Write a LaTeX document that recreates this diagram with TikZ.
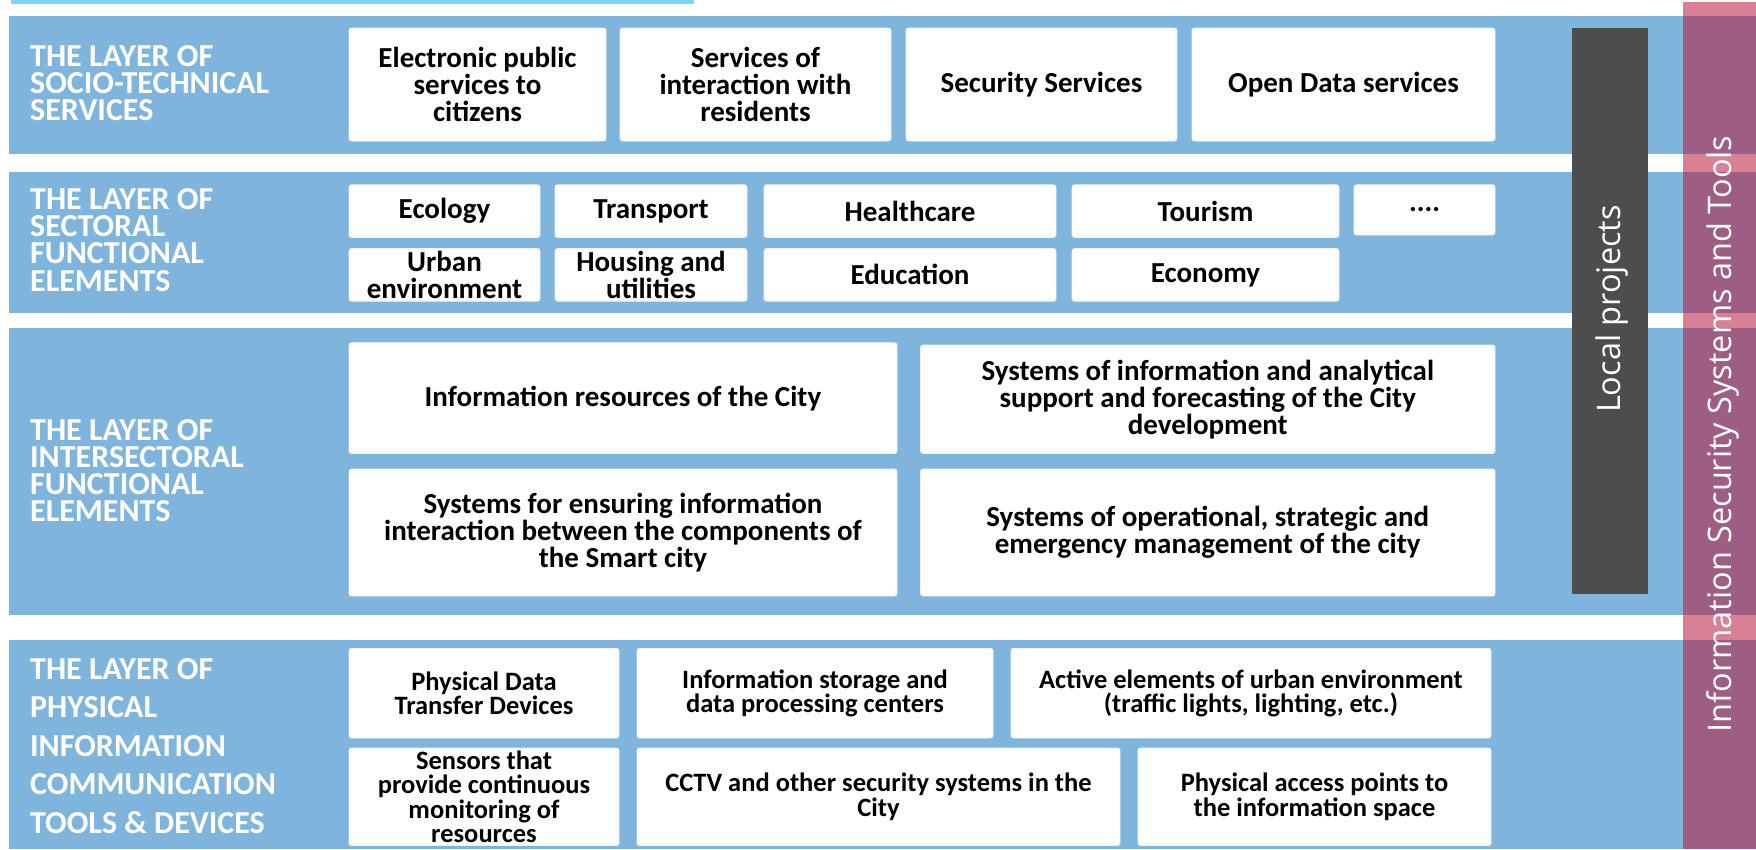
\documentclass[tikz,border=0pt]{standalone}
\usepackage{fontspec}
\setmainfont{Carlito}
\newfontfamily\vfont{Open Sans}
\definecolor{bandblue}{RGB}{127,181,221}
\definecolor{cyanline}{RGB}{125,212,245}
\definecolor{darkbox}{RGB}{77,77,77}
\definecolor{pinkcol}{RGB}{184,24,60}
\tikzset{
  bandrect/.style={fill=bandblue, draw=none},
  box/.style={fill=white, draw=white!85!bandblue, line width=0.8pt, rounded corners=2.5pt,
    align=center, font=\fontsize{29}{27}\selectfont\bfseries, inner sep=0pt},
  smallbox/.style={box, font=\fontsize{26.5}{24.5}\selectfont\bfseries},
  lbl/.style={anchor=west, align=left, text=white, inner sep=0pt,
    font=\fontsize{32}{27.2}\selectfont\bfseries},
  vtext/.style={rotate=90, text=white, inner sep=0pt, font=\vfont\fontsize{32.5}{38}\selectfont},
}
\newcommand\bx[7][box]{\node[#1, minimum width={#5-#3}, minimum height={#6-#4}] (#2) at ({(#3+#5)/2},{(#4+#6)/2}) {#7};}
\begin{document}
\begin{tikzpicture}[x=1pt,y=-1pt]
\useasboundingbox (0,0) rectangle (1756,849);
% top line
\fill[cyanline] (11,0) rectangle (694,3.5);
% bands
\node[bandrect, minimum width=1747, minimum height=137.7, inner sep=0pt, anchor=north west] (b1) at (9,15.7) {};
\node[bandrect, minimum width=1747, minimum height=141.1, inner sep=0pt, anchor=north west] (b2) at (9,171.3) {};
\node[bandrect, minimum width=1747, minimum height=286.7, inner sep=0pt, anchor=north west] (b3) at (9,328.1) {};
\node[bandrect, minimum width=1747, minimum height=209.5, inner sep=0pt, anchor=north west] (b4) at (9,639.5) {};
% labels
\node[lbl] (l1) at (30,83) {THE LAYER OF\\SOCIO-TECHNICAL\\SERVICES};
\node[lbl] (l2) at (30,240) {THE LAYER OF\\SECTORAL\\FUNCTIONAL\\ELEMENTS};
\node[lbl] (l3) at (30,470.5) {THE LAYER OF\\INTERSECTORAL\\FUNCTIONAL\\ELEMENTS};
\node[lbl, font=\fontsize{32}{38.5}\selectfont\bfseries] (l4) at (30,746) {THE LAYER OF\\PHYSICAL\\INFORMATION\\COMMUNICATION\\TOOLS \& DEVICES};
% layer 1
\bx{s1}{349}{28}{606}{141}{Electronic public\\services to\\citizens}
\bx{s2}{620}{28}{891}{141}{Services of\\interaction with\\residents}
\bx{s3}{906}{28}{1177}{141}{Security Services}
\bx{s4}{1192}{28}{1495}{141}{Open Data services}
% layer 2
\bx{f1}{349}{184.8}{540}{237.4}{Ecology}
\bx{f2}{555}{184.8}{747}{237.4}{Transport}
\bx{f3}{764}{184.8}{1056}{237.4}{Healthcare}
\bx{f4}{1072}{184.8}{1339}{237.4}{Tourism}
\bx{f5}{1354}{184.8}{1495}{235}{....}
\bx{f6}{349}{248.6}{540}{301.2}{Urban\\environment}
\bx{f7}{555}{248.6}{747}{301.2}{Housing and\\utilities}
\bx{f8}{764}{248.6}{1056}{301.2}{Education}
\bx{f9}{1072}{248.6}{1339}{301.2}{Economy}
% layer 3
\bx{i1}{349}{342.7}{897}{453.5}{Information resources of the City}
\bx{i2}{920.6}{345}{1495}{453.5}{Systems of information and analytical\\support and forecasting of the City\\development}
\bx{i3}{349}{469}{897}{596}{Systems for ensuring information\\interaction between the components of\\the Smart city}
\bx{i4}{920.6}{469}{1495}{596}{Systems of operational, strategic and\\emergency management of the city}
% layer 4
\bx[smallbox]{p1}{349}{648.4}{619}{738}{Physical Data\\Transfer Devices}
\bx[smallbox]{p2}{637}{648.4}{993}{738}{Information storage and\\data processing centers}
\bx[smallbox]{p3}{1011}{648.4}{1491}{738}{Active elements of urban environment\\(traffic lights, lighting, etc.)}
\bx[smallbox]{p4}{349}{748}{619}{845.5}{Sensors that\\provide continuous\\monitoring of\\resources}
\bx[smallbox]{p5}{637}{748}{1120}{845.5}{CCTV and other security systems in the\\City}
\bx[smallbox]{p6}{1138}{748}{1491}{845.5}{Physical access points to\\the information space}
% local projects
\node[fill=darkbox, minimum width=76, minimum height=565.5, inner sep=0pt, anchor=north west] (lp) at (1572,28) {};
\node[vtext] (lpt) at (1612,309) {Local projects};
% information security column
\node[fill=pinkcol, fill opacity=0.55, minimum width=73, minimum height=847, inner sep=0pt, anchor=north west] (is) at (1683,2) {};
\node[vtext] (ist) at (1723,434) {Information Security Systems and Tools};
\end{tikzpicture}
\end{document}
